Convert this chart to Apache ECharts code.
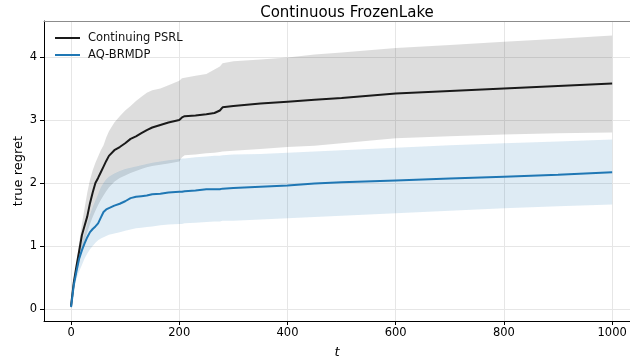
<!DOCTYPE html>
<html>
<head>
<meta charset="utf-8">
<script src="https://cdn.jsdelivr.net/npm/echarts@6/dist/echarts.min.js"></script>
<style>
  html, body { margin: 0; padding: 0; background: #fff; }
  #chart { width: 630px; height: 364px; }
</style>
</head>
<body>
<div id="chart"></div>
<script>
// time steps (shared by every series)
var steps = [0, 5, 10, 15, 20, 25, 30, 35, 40, 45, 50, 55, 60, 65, 70, 80, 90, 100, 110, 120, 130, 140, 150, 165, 180, 200, 205, 210, 230, 250, 265, 275, 280, 300, 350, 400, 450, 500, 600, 700, 800, 900, 1000];

// Continuing PSRL: mean and band
var psrlMean = [0.05, 0.42, 0.68, 0.92, 1.17, 1.32, 1.47, 1.68, 1.85, 2.00, 2.08, 2.17, 2.26, 2.35, 2.43, 2.52, 2.57, 2.63, 2.70, 2.74, 2.79, 2.84, 2.88, 2.92, 2.96, 3.00, 3.04, 3.06, 3.07, 3.09, 3.11, 3.15, 3.20, 3.22, 3.26, 3.29, 3.32, 3.35, 3.42, 3.46, 3.50, 3.54, 3.58];
var psrlUpper = [0.05, 0.45, 0.72, 1.05, 1.35, 1.60, 1.85, 2.05, 2.20, 2.32, 2.42, 2.52, 2.60, 2.72, 2.82, 2.96, 3.06, 3.15, 3.22, 3.30, 3.37, 3.43, 3.47, 3.50, 3.55, 3.62, 3.66, 3.67, 3.70, 3.73, 3.80, 3.85, 3.90, 3.93, 3.96, 3.99, 4.04, 4.07, 4.14, 4.19, 4.24, 4.29, 4.34];
var psrlLower = [0.05, 0.35, 0.55, 0.75, 0.92, 1.08, 1.22, 1.35, 1.46, 1.56, 1.65, 1.73, 1.80, 1.87, 1.93, 2.02, 2.08, 2.12, 2.16, 2.19, 2.22, 2.25, 2.27, 2.29, 2.31, 2.34, 2.41, 2.44, 2.45, 2.47, 2.48, 2.49, 2.50, 2.51, 2.54, 2.57, 2.59, 2.63, 2.71, 2.74, 2.77, 2.79, 2.80];

// AQ-BRMDP: mean and band
var aqMean = [0.03, 0.38, 0.60, 0.80, 0.93, 1.04, 1.14, 1.22, 1.27, 1.31, 1.36, 1.45, 1.54, 1.58, 1.60, 1.64, 1.67, 1.71, 1.76, 1.78, 1.79, 1.80, 1.82, 1.83, 1.85, 1.86, 1.86, 1.87, 1.88, 1.90, 1.90, 1.90, 1.91, 1.92, 1.94, 1.96, 1.99, 2.01, 2.04, 2.07, 2.10, 2.13, 2.17];
var aqUpper = [0.03, 0.42, 0.68, 0.90, 1.05, 1.20, 1.35, 1.50, 1.62, 1.72, 1.82, 1.93, 2.00, 2.06, 2.10, 2.15, 2.19, 2.22, 2.24, 2.26, 2.28, 2.30, 2.32, 2.34, 2.36, 2.38, 2.39, 2.39, 2.41, 2.42, 2.43, 2.43, 2.44, 2.45, 2.46, 2.48, 2.50, 2.52, 2.56, 2.60, 2.63, 2.66, 2.69];
var aqLower = [0.03, 0.30, 0.48, 0.60, 0.70, 0.80, 0.88, 0.95, 1.00, 1.05, 1.09, 1.12, 1.14, 1.16, 1.18, 1.20, 1.22, 1.24, 1.26, 1.28, 1.29, 1.30, 1.31, 1.33, 1.34, 1.35, 1.35, 1.36, 1.37, 1.38, 1.39, 1.39, 1.40, 1.40, 1.42, 1.44, 1.46, 1.48, 1.52, 1.56, 1.60, 1.63, 1.66];

var xTicks = [0, 200, 400, 600, 800, 1000];
var yTicks = [0, 1, 2, 3, 4];

var pairs = function (ys) {
    return steps.map(function (t, i) { return [t, ys[i]]; });
};

// Shaded band drawn as one polygon through the axis scales
var bandRenderer = function (upper, lower, fill) {
    return function (params, api) {
        if (params.dataIndex !== 0) return;
        var pts = [];
        for (var i = 0; i < steps.length; i++) pts.push(api.coord([steps[i], upper[i]]));
        for (var j = steps.length - 1; j >= 0; j--) pts.push(api.coord([steps[j], lower[j]]));
        return { type: 'polygon', shape: { points: pts }, style: { fill: fill } };
    };
};

var chart = echarts.init(document.getElementById('chart'));
var font = 'DejaVu Sans, sans-serif';

chart.setOption({
    animation: false,
    textStyle: { fontFamily: font },
    title: {
        text: 'Continuous FrozenLake',
        left: 342,
        textAlign: 'center',
        top: 1,
        textStyle: { fontFamily: font, fontSize: 15, fontWeight: 'normal', color: '#000' }
    },
    legend: {
        orient: 'vertical',
        left: 55,
        top: 32,
        padding: 0,
        itemWidth: 25,
        itemHeight: 2,
        itemGap: 5,
        icon: 'rect',
        textStyle: { fontFamily: font, fontSize: 11.5, color: '#111', padding: [0, 0, 0, 3] },
        data: ['Continuing PSRL', 'AQ-BRMDP']
    },
    // the right edge of the axes runs past the picture, as in the source figure
    grid: { left: 44, right: 0, top: 21, bottom: 41, containLabel: false },
    xAxis: [{
        type: 'value',
        min: -50,
        max: 1033,
        name: 't',
        nameLocation: 'middle',
        nameGap: 25,
        nameMoveOverlap: false,
        nameTextStyle: { fontFamily: font, fontSize: 13, fontStyle: 'italic', color: '#000' },
        axisLine: { onZero: false, lineStyle: { color: '#000', width: 1 } },
        axisTick: { length: 4, customValues: xTicks, lineStyle: { color: '#000' } },
        axisLabel: {
            customValues: xTicks, color: '#000', fontSize: 11.5, margin: 6, fontFamily: font,
            formatter: function (v) { return String(v); }
        },
        splitLine: { show: true, lineStyle: { color: '#e6e6e6', width: 1 } }
    }, {
        type: 'value',
        position: 'top',
        min: -50,
        max: 1033,
        axisLine: { onZero: false, lineStyle: { color: '#8c8c8c', width: 1 } },
        axisTick: { show: false },
        axisLabel: { show: false },
        splitLine: { show: false }
    }],
    yAxis: {
        type: 'value',
        min: -0.19,
        max: 4.57,
        name: 'true regret',
        nameLocation: 'middle',
        nameGap: 19,
        nameMoveOverlap: false,
        nameTextStyle: { fontFamily: font, fontSize: 13, color: '#000' },
        axisLine: { show: true, onZero: false, lineStyle: { color: '#000', width: 1 } },
        axisTick: { show: true, length: 4, customValues: yTicks, lineStyle: { color: '#000' } },
        axisLabel: { customValues: yTicks, color: '#000', fontSize: 11.5, margin: 7, fontFamily: font },
        splitLine: { show: true, lineStyle: { color: '#e6e6e6', width: 1 } }
    },
    series: [
        {
            name: 'psrl-band',
            type: 'custom',
            renderItem: bandRenderer(psrlUpper, psrlLower, 'rgba(0,0,0,0.135)'),
            data: pairs(psrlUpper),
            encode: { x: 0, y: 1 },
            silent: true,
            z: 1
        },
        {
            name: 'aq-band',
            type: 'custom',
            renderItem: bandRenderer(aqUpper, aqLower, 'rgba(31,119,180,0.15)'),
            data: pairs(aqUpper),
            encode: { x: 0, y: 1 },
            silent: true,
            z: 2
        },
        {
            name: 'Continuing PSRL',
            type: 'line',
            data: pairs(psrlMean),
            showSymbol: false,
            color: '#1a1a1a',
            lineStyle: { width: 2, color: '#1a1a1a' },
            z: 3
        },
        {
            name: 'AQ-BRMDP',
            type: 'line',
            data: pairs(aqMean),
            showSymbol: false,
            color: '#1f77b4',
            lineStyle: { width: 2, color: '#1f77b4' },
            z: 4
        }
    ]
});
</script>
</body>
</html>
